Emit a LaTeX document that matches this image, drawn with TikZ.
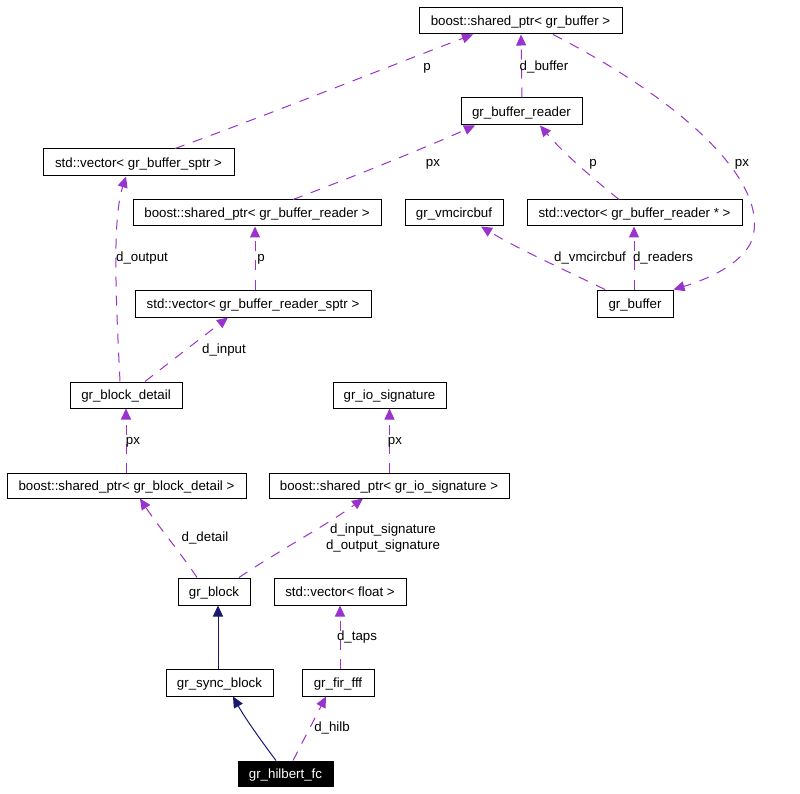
\documentclass[tikz,border=0pt]{standalone}
\usepackage{fontspec}
\setmainfont{Liberation Sans}
\usetikzlibrary{arrows.meta,calc}
\definecolor{edgepurple}{HTML}{9A32CD}
\definecolor{edgenavy}{HTML}{191970}
\begin{document}
\begin{tikzpicture}[x=1pt,y=-1pt,
  box/.style={draw=black,line width=1pt,inner sep=0pt,font=\fontsize{13.3}{15}\selectfont,text height=11.4pt,text depth=1.6pt},
  lbl/.style={inner sep=0pt,font=\fontsize{13.3}{15}\selectfont,text height=11.4pt,text depth=1.6pt},
  uses/.style={draw=edgepurple,line width=1pt,dash pattern=on 10pt off 9pt,-{Triangle[length=11pt,width=10pt]},color=edgepurple},
  inherit/.style={draw=edgenavy,line width=1pt,-{Triangle[length=11pt,width=10pt]},color=edgenavy}]
\useasboundingbox (0,0) rectangle (800,794);
\fill[white] (0,0) rectangle (800,794);
% nodes
\node[box,minimum width=203,minimum height=26] (bsg) at (520.5,21) {boost::shared\_ptr< gr\_buffer >};
\node[box,minimum width=121,minimum height=27] (gbr) at (521.5,111.5) {gr\_buffer\_reader};
\node[box,minimum width=98,minimum height=26] (vmc) at (454,213) {gr\_vmcircbuf};
\node[box,minimum width=215,minimum height=26] (vbr) at (634.5,213) {std::vector< gr\_buffer\_reader * >};
\node[box,minimum width=76,minimum height=27] (gbuf) at (635,303.5) {gr\_buffer};
\node[box,minimum width=191,minimum height=27] (vbs) at (138.5,162.5) {std::vector< gr\_buffer\_sptr >};
\node[box,minimum width=248,minimum height=26] (bsbr) at (257,213) {boost::shared\_ptr< gr\_buffer\_reader >};
\node[box,minimum width=236,minimum height=27] (vbrs) at (253,303.5) {std::vector< gr\_buffer\_reader\_sptr >};
\node[box,minimum width=112,minimum height=26] (gbd) at (126,395) {gr\_block\_detail};
\node[box,minimum width=113,minimum height=26] (gios) at (389.5,395) {gr\_io\_signature};
\node[box,minimum width=239,minimum height=25] (bsbd) at (126.5,485.5) {boost::shared\_ptr< gr\_block\_detail >};
\node[box,minimum width=240,minimum height=25] (bsio) at (389,485.5) {boost::shared\_ptr< gr\_io\_signature >};
\node[box,minimum width=72,minimum height=27] (gblk) at (214,591.5) {gr\_block};
\node[box,minimum width=132,minimum height=27] (vflt) at (340,591.5) {std::vector< float >};
\node[box,minimum width=107,minimum height=27] (gsync) at (219.5,682.5) {gr\_sync\_block};
\node[box,minimum width=72,minimum height=27] (fir) at (338,682.5) {gr\_fir\_fff};
\node[box,fill=black,text=white,minimum width=95,minimum height=25] (hil) at (285.5,773.5) {gr\_hilbert\_fc};
% edges
\draw[uses] ([xshift=36.5]vbs.north) .. controls (260,118) and (400,62) .. ([xshift=-47.5]bsg.south);
\draw[uses] ([xshift=0.5]gbr.north) -- ([xshift=0.5]bsg.south);
\draw[uses] ([xshift=32.5]bsg.south) .. controls (690,105) and (770,185) .. (752,240) .. controls (742,265) and (705,280) .. (gbuf.north east);
\draw[uses] ([xshift=36]bsbr.north) .. controls (350,178) and (420,150) .. ([xshift=-46.5]gbr.south);
\draw[uses] ([xshift=-15.5]vbr.north) .. controls (595,180) and (565,155) .. ([xshift=18.5]gbr.south);
\draw[uses] ([xshift=-30]gbuf.north) .. controls (565,270) and (520,250) .. ([xshift=27]vmc.south);
\draw[uses] ([xshift=-1]gbuf.north) -- ([xshift=-0.5]vbr.south);
\draw[uses] ([xshift=-6]gbd.north) .. controls (116,300) and (112,220) .. ([xshift=-12.5]vbs.south);
\draw[uses] ([xshift=2]vbrs.north) -- ([xshift=-2]bsbr.south);
\draw[uses] ([xshift=19]gbd.north) .. controls (170,362) and (205,335) .. ([xshift=-25]vbrs.south);
\draw[uses] ([xshift=-0.5]bsbd.north) -- (gbd.south);
\draw[uses] ([xshift=0.5]bsio.north) -- (gios.south);
\draw[uses] ([xshift=-17]gblk.north) .. controls (180,552) and (158,526) .. ([xshift=13.5]bsbd.south);
\draw[uses] ([xshift=25]gblk.north) .. controls (275,553) and (330,523) .. ([xshift=-26]bsio.south);
\draw[inherit] ([xshift=-1.5]gsync.north) -- ([xshift=4]gblk.south);
\draw[uses] ([xshift=2]fir.north) -- (vflt.south);
\draw[inherit] ([xshift=-9.5]hil.north) .. controls (262,742) and (245,718) .. ([xshift=13.5]gsync.south);
\draw[uses] ([xshift=7.5]hil.north) -- ([xshift=-12]fir.south);
% labels
\node[lbl] (l1) at (427,66) {p};
\node[lbl] (l2) at (544,66) {d\_buffer};
\node[lbl] (l3) at (433,162) {px};
\node[lbl] (l4) at (593,162) {p};
\node[lbl] (l5) at (742,162) {px};
\node[lbl] (l6) at (590,257) {d\_vmcircbuf};
\node[lbl] (l7) at (663,257) {d\_readers};
\node[lbl] (l8) at (142,257) {d\_output};
\node[lbl] (l9) at (261,257) {p};
\node[lbl] (l10) at (224,349) {d\_input};
\node[lbl] (l11) at (133,440) {px};
\node[lbl] (l12) at (395,440) {px};
\node[lbl] (l13) at (205,537) {d\_detail};
\node[lbl] (l14) at (383,529) {d\_input\_signature};
\node[lbl] (l15) at (383,545) {d\_output\_signature};
\node[lbl] (l16) at (357,636) {d\_taps};
\node[lbl] (l17) at (332,727) {d\_hilb};
\end{tikzpicture}
\end{document}
